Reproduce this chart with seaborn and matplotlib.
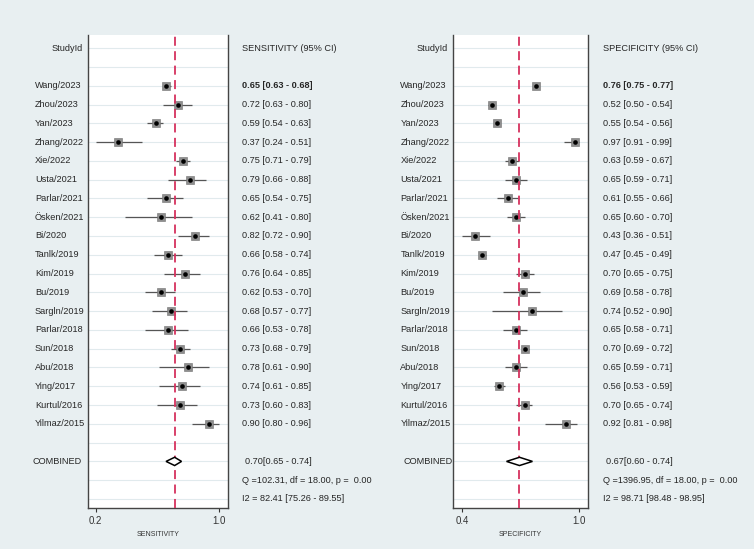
import numpy as np
import pandas as pd
import seaborn as sns
import matplotlib.pyplot as plt
from matplotlib.patches import Polygon

# Study labels (same order in both panels)
studies = ["Wang/2023", "Zhou/2023", "Yan/2023", "Zhang/2022", "Xie/2022", "Usta/2021",
           "Parlar/2021", "Ösken/2021", "Bi/2020", "Tanlk/2019", "Kim/2019", "Bu/2019",
           "Sargln/2019", "Parlar/2018", "Sun/2018", "Abu/2018", "Ying/2017", "Kurtul/2016",
           "Yilmaz/2015"]

# Sensitivity estimates and 95% CI
sens = [0.65, 0.72, 0.59, 0.37, 0.75, 0.79, 0.65, 0.62, 0.82, 0.66, 0.76, 0.62, 0.68, 0.66, 0.73, 0.78, 0.74, 0.73, 0.90]
sens_lo = [0.63, 0.63, 0.54, 0.24, 0.71, 0.66, 0.54, 0.41, 0.72, 0.58, 0.64, 0.53, 0.57, 0.53, 0.68, 0.61, 0.61, 0.60, 0.80]
sens_hi = [0.68, 0.80, 0.63, 0.51, 0.79, 0.88, 0.75, 0.80, 0.90, 0.74, 0.85, 0.70, 0.77, 0.78, 0.79, 0.90, 0.85, 0.83, 0.96]

# Specificity estimates and 95% CI
spec = [0.76, 0.52, 0.55, 0.97, 0.63, 0.65, 0.61, 0.65, 0.43, 0.47, 0.70, 0.69, 0.74, 0.65, 0.70, 0.65, 0.56, 0.70, 0.92]
spec_lo = [0.75, 0.50, 0.54, 0.91, 0.59, 0.59, 0.55, 0.60, 0.36, 0.45, 0.65, 0.58, 0.52, 0.58, 0.69, 0.59, 0.53, 0.65, 0.81]
spec_hi = [0.77, 0.54, 0.56, 0.99, 0.67, 0.71, 0.66, 0.70, 0.51, 0.49, 0.75, 0.78, 0.90, 0.71, 0.72, 0.71, 0.59, 0.74, 0.98]

# Pooled results
sens_comb = [0.70, 0.65, 0.74]
spec_comb = [0.67, 0.60, 0.74]
sens_stats = ["Q =102.31, df = 18.00, p =  0.00", "I2 = 82.41 [75.26 - 89.55]"]
spec_stats = ["Q =1396.95, df = 18.00, p =  0.00", "I2 = 98.71 [98.48 - 98.95]"]

bg = "#e8eff1"
sns.set_theme(style="white")
plt.rcParams["font.family"] = ["Liberation Sans", "DejaVu Sans"]

fig = plt.figure(figsize=(7.54, 5.49), dpi=100, facecolor=bg)
fs = 6.6
tc = "#262626"


def forest(rect, est, lo, hi, comb, stats, name, xlim, name_x, comb_x, text_x):
    ax = fig.add_axes(rect)
    ax.set_facecolor("white")
    rows = np.arange(2, 2 + len(studies))
    df = pd.DataFrame({"study": studies, "est": est, "lo": lo, "hi": hi, "row": rows})

    # row grid lines
    all_rows = [0, 1] + list(rows) + [21, 22, 23, 24]
    ax.set_yticks(all_rows)
    ax.set_yticklabels([])
    ax.yaxis.grid(True, color="#e1eaed", linewidth=0.8)
    ax.tick_params(axis="y", length=0)

    # CI lines and study markers
    ax.hlines(df["row"], df["lo"], df["hi"], color="#555555", linewidth=0.9, zorder=2)
    sns.scatterplot(data=df, x="est", y="row", marker="s", s=32, color="#8e8e8e",
                    edgecolor="#707070", linewidth=0.4, ax=ax, zorder=3, legend=False)
    sns.scatterplot(data=df, x="est", y="row", marker="o", s=11, color="black",
                    edgecolor="black", linewidth=0, ax=ax, zorder=4, legend=False)

    # pooled estimate line and diamond
    ax.axvline(comb[0], color="#d6315e", linestyle=(0, (5, 3)), linewidth=1.3, zorder=5)
    diamond = Polygon([(comb[1], 22), (comb[0], 22.22), (comb[2], 22), (comb[0], 21.78)],
                      closed=True, facecolor="white", edgecolor="black", linewidth=1.1, zorder=6)
    ax.add_patch(diamond)

    ax.set_xlim(*xlim)
    ax.set_ylim(24.48, -0.7)
    ax.set_xticks([min(lo), max(hi)])
    ax.set_xticklabels([f"{min(lo):.1f}", f"{max(hi):.1f}"], fontsize=7, color="#333333")
    ax.tick_params(axis="x", length=3, width=0.8, color="#333333", pad=3, bottom=True)
    ax.set_xlabel(name, fontsize=5, color="#333333", labelpad=3)
    ax.set_ylabel("")

    for side in ["left", "right", "bottom"]:
        ax.spines[side].set_color("#444444")
        ax.spines[side].set_linewidth(1.0)
    ax.spines["top"].set_visible(False)

    tr = ax.get_yaxis_transform()
    ax.text(-0.04, 0, "StudyId", transform=tr, ha="right", va="center", fontsize=fs, color=tc)
    ax.text(text_x, 0, f"{name} (95% CI)", transform=tr, ha="left", va="center", fontsize=fs, color=tc)
    for i, r in df.iterrows():
        w = "bold" if i == 0 else "normal"
        ax.text(name_x, r["row"], r["study"], transform=tr, ha="left", va="center",
                fontsize=fs, color=tc, clip_on=False)
        ax.text(text_x, r["row"], f"{r['est']:.2f} [{r['lo']:.2f} - {r['hi']:.2f}]", transform=tr,
                ha="left", va="center", fontsize=fs, color=tc, fontweight=w, clip_on=False)
    ax.text(comb_x, 22, "COMBINED", transform=tr, ha="left", va="center", fontsize=fs, color=tc)
    ax.text(text_x + 0.02, 22, f"{comb[0]:.2f}[{comb[1]:.2f} - {comb[2]:.2f}]", transform=tr,
            ha="left", va="center", fontsize=fs, color=tc)
    ax.text(text_x, 23, stats[0], transform=tr, ha="left", va="center", fontsize=fs, color=tc)
    ax.text(text_x, 24, stats[1], transform=tr, ha="left", va="center", fontsize=fs, color=tc)
    return ax


forest([88 / 754, 41 / 549, 140 / 754, 473 / 549], sens, sens_lo, sens_hi, sens_comb, sens_stats,
       "SENSITIVITY", (0.195, 1.011), -0.38, -0.395, 1.10)
forest([453 / 754, 41 / 549, 135 / 754, 473 / 549], spec, spec_lo, spec_hi, spec_comb, spec_stats,
       "SPECIFICITY", (0.311, 1.04), -0.39, -0.37, 1.11)

fig.savefig("out.png", dpi=100, facecolor=bg)
